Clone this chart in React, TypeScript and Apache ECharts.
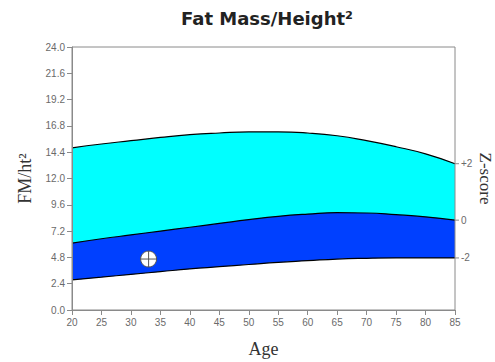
import React, { useEffect, useRef } from "react";
import * as echarts from "echarts";

const ages = [20, 25, 30, 35, 40, 45, 50, 55, 60, 65, 70, 75, 80, 85];
const zPlus2 = [14.8, 15.15, 15.45, 15.75, 16.0, 16.15, 16.25, 16.25, 16.15, 15.9, 15.45, 14.9, 14.25, 13.35];
const zZero = [6.1, 6.5, 6.85, 7.2, 7.55, 7.9, 8.25, 8.55, 8.75, 8.88, 8.85, 8.7, 8.5, 8.2];
const zMinus2 = [2.75, 3.0, 3.25, 3.5, 3.75, 3.95, 4.15, 4.35, 4.5, 4.65, 4.72, 4.75, 4.75, 4.75];
const zLabels = ["+2", "0", "-2"];
const patientPoint = [33, 4.65];
const yTicks = { min: 0, max: 24, interval: 2.4 };

export default function App() {
  const ref = useRef<HTMLDivElement>(null);
  useEffect(() => {
    if (!ref.current) return;
    const chart = echarts.init(ref.current, null, { renderer: "svg" });
    const last = ages.length - 1;
    const zMarks = [
      [ages[last], zPlus2[last], zLabels[0]],
      [ages[last], zZero[last], zLabels[1]],
      [ages[last], zMinus2[last], zLabels[2]],
    ];
    const axisGrey = "#8a8a8a";
    const labelGrey = "#6a6a6a";
    const band = (name: string, vals: number[], fill: string, z: number) => ({
      type: "line",
      name,
      smooth: true,
      symbol: "none",
      data: ages.map((a, i) => [a, vals[i]]),
      lineStyle: { color: "#000", width: 1.2 },
      areaStyle: { color: fill, opacity: 1, origin: "start" },
      z,
    });
    chart.setOption({
      animation: false,
      title: {
        text: "Fat Mass/Height²",
        left: 262,
        textAlign: "center",
        top: 4,
        textStyle: { fontFamily: "DejaVu Sans", fontWeight: "bold", fontSize: 18, color: "#222" },
      },
      grid: {
        left: 72,
        right: 40,
        top: 47,
        bottom: 52,
        containLabel: false,
        outerBoundsMode: "none",
        show: true,
        borderColor: axisGrey,
        borderWidth: 1,
        backgroundColor: "transparent",
        z: 10,
      },
      xAxis: {
        type: "value",
        min: 20,
        max: 85,
        interval: 5,
        z: 10,
        name: "Age",
        nameLocation: "middle",
        nameGap: 30,
        nameTextStyle: { fontFamily: "Liberation Serif", fontSize: 18, color: "#333" },
        axisLine: { show: true, lineStyle: { color: axisGrey } },
        axisTick: { show: true, length: 5, lineStyle: { color: axisGrey } },
        axisLabel: { fontFamily: "Liberation Sans", fontSize: 10, color: labelGrey, margin: 7 },
        splitLine: { show: false },
      },
      yAxis: [
        {
          type: "value",
          min: yTicks.min,
          max: yTicks.max,
          interval: yTicks.interval,
          z: 10,
          name: "FM/ht²",
          nameLocation: "middle",
          nameRotate: 90,
          nameGap: 38,
          nameTextStyle: { fontFamily: "Liberation Serif", fontSize: 18, color: "#333" },
          axisLine: { show: true, lineStyle: { color: axisGrey } },
          axisTick: { show: true, length: 5, lineStyle: { color: axisGrey } },
          axisLabel: {
            fontFamily: "Liberation Sans",
            fontSize: 10,
            color: labelGrey,
            margin: 7,
            formatter: (v: number) => v.toFixed(1),
          },
          splitLine: { show: false },
        },
        {
          type: "value",
          position: "right",
          min: yTicks.min,
          max: yTicks.max,
          name: "Z-score",
          nameLocation: "middle",
          nameRotate: -90,
          nameGap: 22,
          nameTextStyle: { fontFamily: "Liberation Serif", fontSize: 17, color: "#333" },
          axisLine: { show: false },
          axisTick: { show: false },
          axisLabel: { show: false },
          splitLine: { show: false },
        },
      ],
      series: [
        band("+2", zPlus2, "#00FFFF", 1),
        band("0", zZero, "#0040FF", 2),
        band("-2", zMinus2, "#FFFFFF", 3),
        {
          type: "custom",
          name: "zTicks",
          clip: false,
          data: zMarks,
          renderItem: (params: any, api: any) => {
            const p = api.coord([api.value(0), api.value(1)]);
            return {
              type: "group",
              children: [
                {
                  type: "line",
                  shape: { x1: p[0], y1: p[1], x2: p[0] + 4, y2: p[1] },
                  style: { stroke: axisGrey, lineWidth: 1 },
                },
                {
                  type: "text",
                  style: {
                    x: p[0] + 6,
                    y: p[1],
                    text: zMarks[params.dataIndex][2],
                    fontFamily: "Liberation Sans",
                    fontSize: 10,
                    fill: labelGrey,
                    verticalAlign: "middle",
                    align: "left",
                  },
                },
              ],
            };
          },
          z: 12,
        },
        {
          type: "custom",
          name: "Patient",
          data: [patientPoint],
          renderItem: (params: any, api: any) => {
            const p = api.coord([api.value(0), api.value(1)]);
            const r = 8;
            return {
              type: "group",
              children: [
                { type: "circle", shape: { cx: p[0], cy: p[1], r }, style: { fill: "#fff", stroke: "#555", lineWidth: 1 } },
                { type: "line", shape: { x1: p[0] - r, y1: p[1], x2: p[0] + r, y2: p[1] }, style: { stroke: "#555", lineWidth: 1 } },
                { type: "line", shape: { x1: p[0], y1: p[1] - r, x2: p[0], y2: p[1] + r }, style: { stroke: "#555", lineWidth: 1 } },
              ],
            };
          },
          z: 12,
        },
      ],
    });
    return () => chart.dispose();
  }, []);
  return <div ref={ref} style={{ width: 495, height: 362, position: "absolute", left: 0, top: 0 }} />;
}
